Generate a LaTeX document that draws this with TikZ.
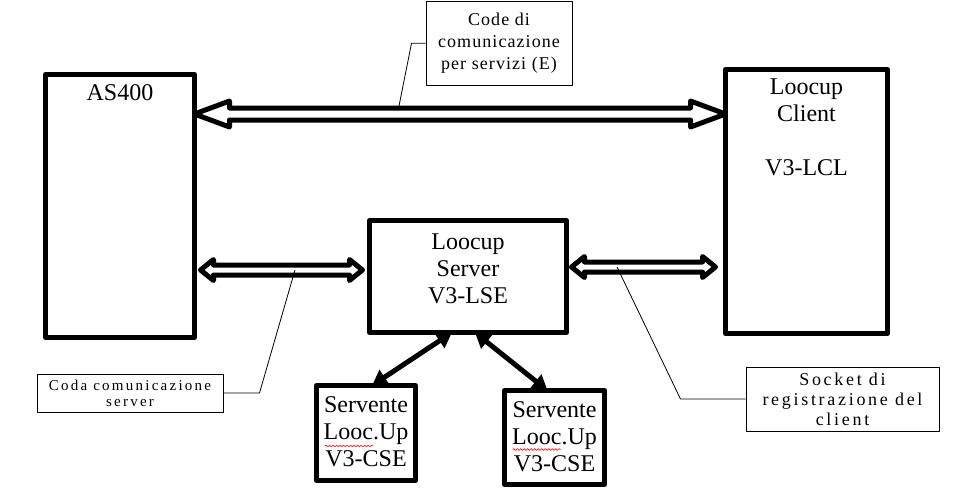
\documentclass[tikz,border=0pt]{standalone}
\usepackage{fontspec}
\setmainfont{Liberation Serif}
\usetikzlibrary{arrows.meta,calc,decorations.pathmorphing}

\newcommand{\hollowarrow}[5]{%
\draw[hollow] (#1) -- ++(#3,-#4) -- ++(0,#4-#5) -- ($(#2)+(-#3,-#5)$) -- ++(0,#5-#4) -- (#2)
  -- ++(-#3,#4) -- ++(0,#5-#4) -- ($(#1)+(#3,#5)$) -- ++(0,#4-#5) -- cycle;}

\begin{document}
\begin{tikzpicture}[x=1pt,y=-1pt,line join=round,
  box/.style={draw,line width=5pt,inner sep=0pt,outer sep=0pt},
  txt/.style={font=\fontsize{24}{27}\selectfont,align=center,inner sep=0pt},
  note/.style={draw,line width=1pt,align=center,inner sep=0pt},
  lead/.style={line width=0.8pt},
  hollow/.style={draw,fill=white,line width=5pt,line join=round},
  thickarr/.style={line width=5pt,{Triangle[length=15pt,width=17pt]}-{Triangle[length=15pt,width=17pt]}}]
\useasboundingbox (0,0) rectangle (956,499);
\node[box,minimum width=149,minimum height=263,label={[txt,below=9.5pt,name=ast]north:AS400}] (as) at (120,206) {};
\node[box,minimum width=162,minimum height=264,label={[txt,below=9.5pt,name=clt]north:{Loocup\\Client\\[27pt]V3-LCL}}] (cl) at (806.5,201.5) {};
\node[box,minimum width=197,minimum height=112,label={[txt,below=13.5pt,name=srvt]north:{Loocup\\Server\\V3-LSE}}] (srv) at (468,276.5) {};
\node[box,minimum width=99,minimum height=95,label={[txt,below=10.5pt,name=sv1t]north:{Servente\\Looc.Up\\V3-CSE}}] (sv1) at (366,433) {};
\node[box,minimum width=100,minimum height=94,label={[txt,below=10.5pt,name=sv2t]north:{Servente\\Looc.Up\\V3-CSE}}] (sv2) at (554.5,437.5) {};
\node[note,minimum width=146,minimum height=83.5,font=\fontsize{18}{22}\selectfont\addfontfeatures{LetterSpace=6}] (code) at (499,43.25) {Code di\\comunicazione\\per servizi (E)};
\node[note,minimum width=186,minimum height=38,font=\fontsize{15}{16}\selectfont\addfontfeatures{LetterSpace=15}] (coda) at (130,393) {Coda comunicazione\\server};
\node[note,minimum width=193,minimum height=64,font=\fontsize{18}{20}\selectfont\addfontfeatures{LetterSpace=15}] (sock) at (842.5,399) {Socket di\\registrazione del\\client};
\coordinate (t1) at (as.east |- 0,114);
\coordinate (t2) at (cl.west |- 0,114);
\coordinate (m1) at ($(as.east |- 0,270)+(6,0)$);
\coordinate (m2) at ($(srv.west |- 0,270)+(-7,0)$);
\coordinate (m3) at ($(srv.east |- 0,267)+(5,0)$);
\coordinate (m4) at ($(cl.west |- 0,267)+(-10,0)$);
\hollowarrow{t1}{t2}{35}{13}{6}
\hollowarrow{m1}{m2}{13}{10.5}{5}
\hollowarrow{m3}{m4}{13}{10.5}{5}
\draw[thickarr] ([xshift=-16pt]srv.south) -- ([xshift=6pt]sv1.north);
\draw[thickarr] ([xshift=7pt]srv.south) -- ([xshift=-7pt]sv2.north);
\coordinate (c1) at (399,106);
\coordinate (c2) at (295,270);
\coordinate (c3) at (617,267);
\draw[lead] (code.west) -- ++(-14,0) -- (c1);
\draw[lead] (coda.east) -- ++(36,0) -- (c2);
\draw[lead] (sock.west) -- ++(-65,0) -- (c3);
\draw[red,line width=0.6pt,decorate,decoration={snake,amplitude=0.9pt,segment length=3.5pt}] ($(sv1)+(-41,13)$) -- ++(48,0);
\draw[red,line width=0.6pt,decorate,decoration={snake,amplitude=0.9pt,segment length=3.5pt}] ($(sv2)+(-41.8,12)$) -- ++(48,0);
\end{tikzpicture}
\end{document}
